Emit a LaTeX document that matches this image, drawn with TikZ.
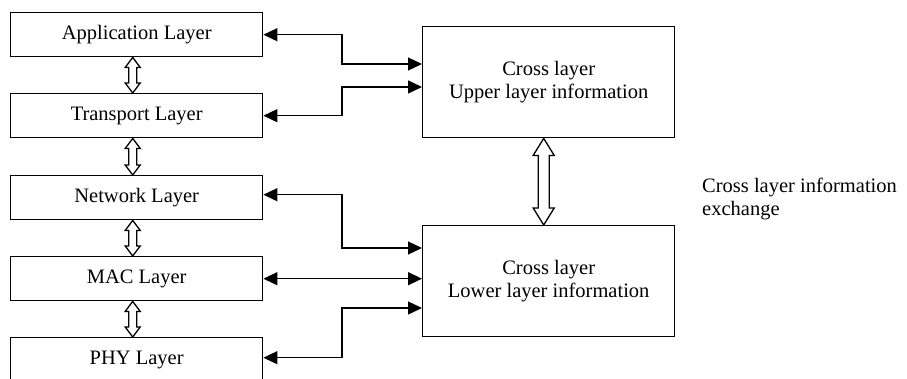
\documentclass[tikz,border=0pt]{standalone}
\usepackage{fontspec}
\setmainfont{Liberation Serif}
\usetikzlibrary{arrows.meta,calc}
\tikzset{
  layerbox/.style={draw, line width=1.4pt, minimum width=252pt, minimum height=44pt, inner sep=0pt, anchor=north west, font=\fontsize{20.5}{23}\selectfont},
  crossbox/.style={draw, line width=1.4pt, minimum width=252pt, minimum height=111pt, inner sep=0pt, anchor=north west, align=center, font=\fontsize{20.5}{23}\selectfont},
  conn/.style={line width=1.4pt, {Triangle[length=14pt,width=13pt]}-{Triangle[length=14pt,width=13pt]}},
  hollow/.style={line width=1.3pt, fill=white, line join=miter},
}
\newcommand\hollowdbl[6]{% top anchor, bottom anchor, shaft half, head half, head length, x offset
  \draw[hollow]
    ($(#1)+(#6-#3,#5)$) -- ($(#1)+(#6-#4,#5)$) -- ($(#1)+(#6,0)$) -- ($(#1)+(#6+#4,#5)$) -- ($(#1)+(#6+#3,#5)$)
    -- ($(#2)+(#6+#3,-#5)$) -- ($(#2)+(#6+#4,-#5)$) -- ($(#2)+(#6,0)$) -- ($(#2)+(#6-#4,-#5)$) -- ($(#2)+(#6-#3,-#5)$) -- cycle;
}
\begin{document}
\begin{tikzpicture}[x=1pt,y=-1pt]
\clip (0,0) rectangle (907,378);
\fill[white] (0,0) rectangle (907,378);
\node[layerbox] (App) at (10,12) {Application Layer};
\node[layerbox] (Tra) at (10,93) {Transport Layer};
\node[layerbox] (Net) at (10,175) {Network Layer};
\node[layerbox] (Mac) at (10,256) {MAC Layer};
\node[layerbox] (Phy) at (10,337) {PHY Layer};
\node[crossbox] (Upper) at (422,26) {Cross layer\\Upper layer information};
\node[crossbox] (Lower) at (422,225) {Cross layer\\Lower layer information};
\node[anchor=west, align=left, inner sep=0pt, font=\fontsize{20.5}{22.5}\selectfont] (info) at (702,199) {Cross layer information\\exchange};
% vertical hollow arrows
\hollowdbl{App.south}{Tra.north}{4}{7.5}{10}{-4}
\hollowdbl{Tra.south}{Net.north}{4}{7.5}{10}{-4}
\hollowdbl{Net.south}{Mac.north}{4}{7.5}{10}{-4}
\hollowdbl{Mac.south}{Phy.north}{4}{7.5}{10}{-4}
\hollowdbl{Upper.south}{Lower.north}{5.5}{10.5}{17}{-5}
% connectors
\draw[conn] (App.east) -| (342,64) -- ($(Upper.north west)+(0,38)$);
\draw[conn] (Tra.east) -| (342,87) -- ($(Upper.north west)+(0,61)$);
\draw[conn] ($(Net.east)+(0,-3)$) -| (342,248) -- ($(Lower.north west)+(0,23)$);
\draw[conn] (Mac.east) -- (Mac.east -| Lower.west);
\draw[conn] ($(Phy.east)+(0,-2)$) -| (342,308) -- ($(Lower.north west)+(0,83)$);
\end{tikzpicture}
\end{document}
